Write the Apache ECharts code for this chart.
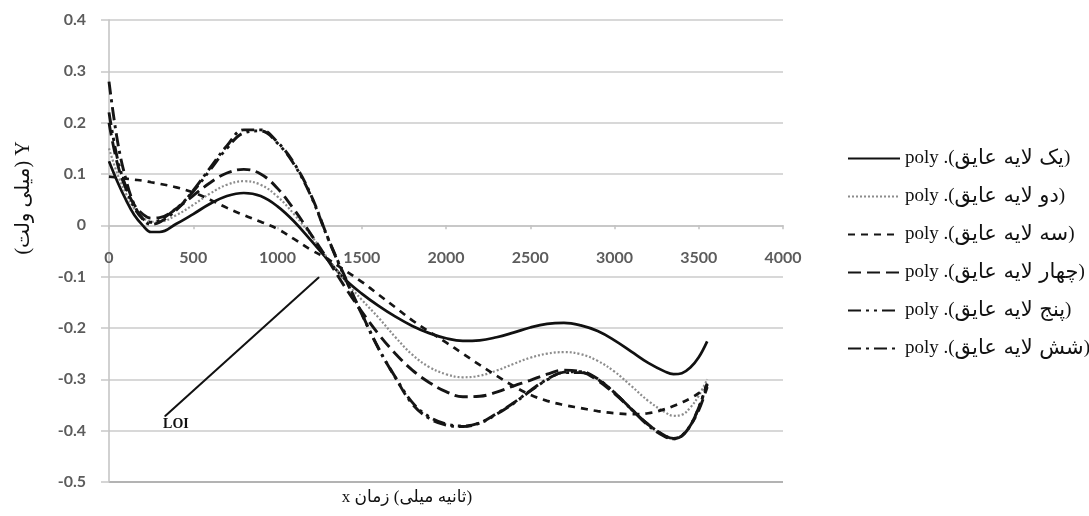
<!DOCTYPE html>
<html>
<head>
<meta charset="utf-8">
<script src="https://cdn.jsdelivr.net/npm/echarts@6/dist/echarts.min.js"></script>
<style>
  html, body { margin: 0; padding: 0; background: #ffffff; }
  #chart { width: 1089px; height: 516px; }
</style>
</head>
<body>
<div id="chart"></div>
<script>
// Time axis (ms) shared by all fitted curves
const TIME_MS = [0, 50, 100, 150, 200, 250, 300, 400, 500, 600, 700, 800, 900, 1000, 1100, 1200,
  1300, 1400, 1500, 1600, 1700, 1800, 1900, 2000, 2100, 2200, 2300, 2400, 2500, 2600, 2700,
  2800, 2900, 3000, 3100, 3200, 3300, 3350, 3400, 3450, 3500, 3550];

// Polynomial fits (mV), one per insulation layer count
const ONE_LAYER = [0.125, 0.085, 0.05, 0.02, 0.0, -0.013, -0.013, 0.003, 0.022, 0.042, 0.057, 0.063,
  0.057, 0.037, 0.007, -0.03, -0.068, -0.105, -0.133, -0.157, -0.178, -0.196, -0.21, -0.22, -0.225,
  -0.224, -0.218, -0.209, -0.199, -0.192, -0.19, -0.195, -0.206, -0.224, -0.246, -0.268, -0.285,
  -0.29, -0.288, -0.277, -0.257, -0.226];
const TWO_LAYERS = [0.15, 0.1, 0.062, 0.032, 0.015, 0.007, 0.007, 0.02, 0.04, 0.062, 0.079, 0.086,
  0.079, 0.056, 0.021, -0.02, -0.065, -0.108, -0.145, -0.18, -0.218, -0.252, -0.276, -0.29, -0.296,
  -0.293, -0.283, -0.27, -0.258, -0.25, -0.247, -0.251, -0.264, -0.285, -0.313, -0.342, -0.364,
  -0.371, -0.369, -0.355, -0.332, -0.3];
const THREE_LAYERS = [0.095, 0.093, 0.091, 0.089, 0.087, 0.084, 0.081, 0.074, 0.064, 0.05, 0.034,
  0.02, 0.007, -0.007, -0.027, -0.048, -0.066, -0.088, -0.11, -0.135, -0.16, -0.185, -0.207, -0.228,
  -0.25, -0.272, -0.293, -0.313, -0.33, -0.342, -0.35, -0.356, -0.362, -0.366, -0.368, -0.366,
  -0.358, -0.352, -0.345, -0.337, -0.327, -0.313];
const FOUR_LAYERS = [0.2, 0.12, 0.072, 0.04, 0.022, 0.014, 0.015, 0.033, 0.058, 0.083, 0.102, 0.109,
  0.1, 0.072, 0.03, -0.018, -0.068, -0.12, -0.168, -0.212, -0.25, -0.282, -0.306, -0.324, -0.334,
  -0.333, -0.325, -0.313, -0.302, -0.29, -0.282, -0.285, -0.302, -0.328, -0.358, -0.388, -0.41,
  -0.416, -0.41, -0.39, -0.36, -0.315];
const FIVE_LAYERS = [0.22, 0.13, 0.075, 0.035, 0.013, 0.006, 0.01, 0.033, 0.066, 0.108, 0.15, 0.18,
  0.184, 0.16, 0.118, 0.056, -0.026, -0.102, -0.173, -0.24, -0.296, -0.345, -0.373, -0.387, -0.391,
  -0.385, -0.368, -0.347, -0.323, -0.301, -0.286, -0.285, -0.299, -0.326, -0.358, -0.388, -0.41,
  -0.415, -0.409, -0.39, -0.355, -0.308];
const SIX_LAYERS = [0.28, 0.165, 0.09, 0.04, 0.012, 0.002, 0.006, 0.03, 0.068, 0.112, 0.155, 0.186,
  0.186, 0.162, 0.12, 0.058, -0.025, -0.1, -0.172, -0.24, -0.297, -0.348, -0.376, -0.389, -0.392,
  -0.385, -0.367, -0.346, -0.322, -0.3, -0.287, -0.287, -0.3, -0.326, -0.358, -0.39, -0.412,
  -0.416, -0.41, -0.39, -0.355, -0.31];

const LAYER_NAMES = ['یک لایه عایق', 'دو لایه عایق', 'سه لایه عایق', 'چهار لایه عایق', 'پنج لایه عایق', 'شش لایه عایق'];
const LAYER_VALUES = [ONE_LAYER, TWO_LAYERS, THREE_LAYERS, FOUR_LAYERS, FIVE_LAYERS, SIX_LAYERS];

// Pointer line for the LOI note: [time ms, mV] from label to curve bundle
const LOI_LINE = [[332, -0.372], [1246, -0.101]];
const LOI_TEXT = 'LOI';

const X_TITLE = 'x زمان\u200E (\u200Eمیلی\u200E ثانیه\u200E)';
const Y_TITLE = '\u202BY (میلی ولت)\u202C';

// Axis ranges
const X_MIN = 0, X_MAX = 4000, X_STEP = 500;
const Y_MIN = -0.5, Y_MAX = 0.4, Y_STEP = 0.1;

// Plot box (px)
const GRID = { left: 109, right: 306, top: 20, bottom: 34 };
const PLOT_H = 516 - GRID.top - GRID.bottom;
// lift the time axis from the bottom edge up to the zero line
const ZERO_LIFT = -PLOT_H * (0 - Y_MIN) / (Y_MAX - Y_MIN);

// Visual style per curve: colour, width, dash pattern
const STYLES = [
  { color: '#111111', width: 2.7, type: 'solid' },
  { color: '#8c8c8c', width: 2.2, type: [2, 2] },
  { color: '#151515', width: 2.7, type: [7, 6] },
  { color: '#151515', width: 2.9, type: [13, 6] },
  { color: '#151515', width: 2.9, type: [13, 5, 3, 5, 3, 5] },
  { color: '#151515', width: 2.9, type: [13, 5, 3, 5] }
];

const serif = '"Liberation Serif", "DejaVu Serif", "DejaVu Sans", serif';
const arabicFont = '"DejaVu Sans", "Liberation Serif", serif';

const series = LAYER_NAMES.map((name, i) => ({
  name: name,
  type: 'line',
  smooth: 0.4,
  symbol: 'none',
  showSymbol: false,
  z: 3 + i,
  lineStyle: { color: STYLES[i].color, width: STYLES[i].width, type: STYLES[i].type, cap: 'butt' },
  itemStyle: { color: STYLES[i].color },
  data: TIME_MS.map((t, k) => [t, LAYER_VALUES[i][k]])
}));

series.push({
  name: 'loi-note',
  type: 'line',
  symbol: 'circle',
  symbolSize: 1,
  showSymbol: true,
  z: 10,
  lineStyle: { color: '#111111', width: 2 },
  itemStyle: { color: '#111111' },
  data: LOI_LINE.map((p, k) => k === 0 ? {
    value: p,
    label: {
      show: true, position: 'bottom', distance: 1, offset: [11, 0],
      formatter: LOI_TEXT, color: '#111111', fontFamily: serif, fontWeight: 'bold', fontSize: 14
    }
  } : { value: p })
});

const gridColors = ['#9a9a9a', '#cbcbcb', '#cbcbcb', '#cbcbcb', '#cbcbcb', '#cbcbcb', '#cbcbcb', '#cbcbcb', '#cbcbcb', '#cbcbcb'];

const chart = echarts.init(document.getElementById('chart'), null, { renderer: 'canvas' });
chart.setOption({
  animation: false,
  backgroundColor: '#ffffff',
  grid: { left: GRID.left, right: GRID.right, top: GRID.top, bottom: GRID.bottom, containLabel: false },
  xAxis: {
    type: 'value', min: X_MIN, max: X_MAX, interval: X_STEP,
    position: 'bottom',
    offset: ZERO_LIFT,
    axisLine: { show: true, onZero: false, lineStyle: { color: '#c2c2c2', width: 1.5 } },
    axisTick: { show: true, length: 4, lineStyle: { color: '#c2c2c2', width: 1.5 } },
    splitLine: { show: false },
    axisLabel: {
      margin: 25, color: '#5c5c5c', fontFamily: 'Lato, "Open Sans", sans-serif',
      fontWeight: 'bold', fontSize: 16,
      formatter: v => String(v)
    }
  },
  yAxis: {
    type: 'value', min: Y_MIN, max: Y_MAX, interval: Y_STEP,
    axisLine: { show: true, onZero: false, lineStyle: { color: '#c2c2c2', width: 1.5 } },
    axisTick: { show: true, length: 8, lineStyle: { color: '#c8c8c8', width: 1.5 } },
    splitLine: { show: true, lineStyle: { color: gridColors, width: 1.6 } },
    axisLabel: {
      margin: 23, color: '#5c5c5c', fontFamily: 'Lato, "Open Sans", sans-serif',
      fontWeight: 'bold', fontSize: 16,
      formatter: v => String(Number(v.toFixed(1)))
    }
  },
  legend: {
    orient: 'vertical', left: 842, top: 143,
    itemWidth: 52, itemHeight: 14, itemGap: 17,
    data: LAYER_NAMES,
    itemStyle: { opacity: 0 },
    // drawn left to right: "poly .(" + layer name + ")"
    formatter: name => '{p|poly .(}{a|' + name + '}{p|)}',
    textStyle: {
      fontFamily: serif, fontSize: 19, color: '#111111',
      rich: {
        p: { fontFamily: serif, fontSize: 19, color: '#111111', lineHeight: 20 },
        a: { fontFamily: arabicFont, fontSize: 21, color: '#111111', lineHeight: 20 }
      }
    },
    selectedMode: false
  },
  graphic: [
    {
      type: 'text', x: 407, y: 498, z: 20,
      style: { text: X_TITLE, font: '17px ' + serif, fill: '#111111', textAlign: 'center', textVerticalAlign: 'middle' }
    },
    {
      type: 'text', x: 24, y: 198, rotation: Math.PI / 2, z: 20,
      style: { text: Y_TITLE, font: '20px ' + serif, fill: '#111111', textAlign: 'center', textVerticalAlign: 'middle' }
    }
  ],
  series: series
});
</script>
</body>
</html>
